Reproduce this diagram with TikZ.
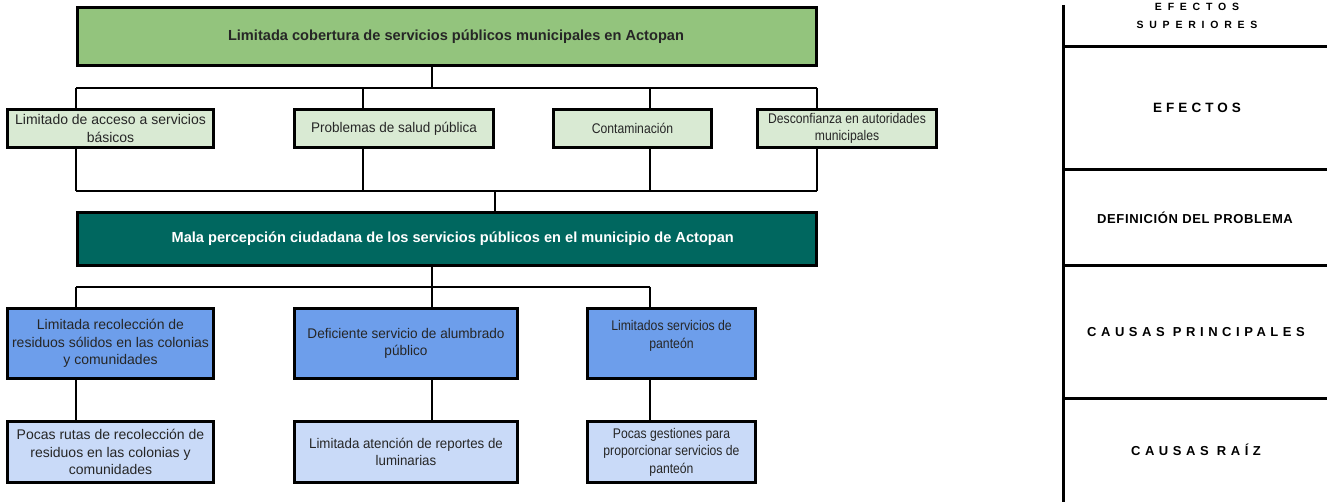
\documentclass[tikz,border=0pt]{standalone}
\usepackage{fontspec}
\setmainfont{Liberation Sans}
\definecolor{topgreen}{HTML}{93C47D}
\definecolor{effgreen}{HTML}{D9EAD3}
\definecolor{teal}{HTML}{00675F}
\definecolor{causeblue}{HTML}{6D9EEB}
\definecolor{rootblue}{HTML}{C9DAF8}
\tikzset{
  box/.style={draw=black, line width=3pt, rectangle, inner sep=0pt, align=center,
    font=\fontsize{14}{17.5}\selectfont, text=black!85},
  narrow/.style={font=\fontsize{14}{17.5}\selectfont\addfontfeatures{FakeStretch=#1}},
  titlebox/.style={box, font=\bfseries\fontsize{14.6}{17.5}\selectfont},
  conn/.style={draw=black, line width=2pt},
  panel/.style={draw=black, line width=3pt},
  lab/.style={align=center, font=\bfseries\fontsize{#1}{18}\selectfont},
  spacing/.style={font=\bfseries\fontsize{#1}{18}\selectfont},
}
\begin{document}
\begin{tikzpicture}[x=1pt,y=-1pt]
\useasboundingbox (0,0) rectangle (1327,502);
% boxes
\node[titlebox, fill=topgreen, minimum width=739, minimum height=58] (top) at (446.5,36.5) {\hspace*{19pt}Limitada cobertura de servicios públicos municipales en Actopan};
\node[box, fill=effgreen, minimum width=206, minimum height=38] (e1) at (110.5,128.5) {Limitado de acceso a servicios\\básicos};
\node[box, narrow=0.965, fill=effgreen, minimum width=199, minimum height=38] (e2) at (394,128.5) {Problemas de salud pública};
\node[box, narrow=0.87, fill=effgreen, minimum width=158, minimum height=38] (e3) at (632.5,128.5) {Contaminación};
\node[box, narrow=0.87, fill=effgreen, minimum width=179, minimum height=38] (e4) at (847,128.5) {Desconfianza en autoridades\\municipales};
\node[titlebox, fill=teal, text=white, minimum width=739.5, minimum height=53] (prob) at (446.75,239) {\hspace*{12pt}Mala percepción ciudadana de los servicios públicos en el municipio de Actopan};
\node[box, fill=causeblue, minimum width=206, minimum height=70] (c1) at (110.5,343.5) {Limitada recolección de\\residuos sólidos en las colonias\\y comunidades};
\node[box, narrow=0.97, fill=causeblue, minimum width=223, minimum height=70] (c2) at (406,343.5) {Deficiente servicio de alumbrado\\público};
\node[box, narrow=0.875, fill=causeblue, minimum width=168, minimum height=70] (c3) at (671.5,343.5) {Limitados servicios de\\panteón\\[-5pt]\strut};
\node[box, fill=rootblue, minimum width=206, minimum height=61] (r1) at (110.5,452) {Pocas rutas de recolección de\\residuos en las colonias y\\comunidades};
\node[box, narrow=0.95, fill=rootblue, minimum width=223, minimum height=61] (r2) at (406,452) {Limitada atención de reportes de\\luminarias};
\node[box, narrow=0.87, fill=rootblue, minimum width=168, minimum height=61] (r3) at (671.5,452) {Pocas gestiones para\\proporcionar servicios de\\panteón};
% connector coordinates
\coordinate (ta) at (432,88);
\coordinate (ba) at (76,88);
\coordinate (bb) at (363,88);
\coordinate (bc) at (650,88);
\coordinate (bd) at (817,88);
\coordinate (la) at (76,191);
\coordinate (lb) at (363,191);
\coordinate (lc) at (650,191);
\coordinate (ld) at (817,191);
\coordinate (lm) at (495,191);
\coordinate (pa) at (76,287);
\coordinate (pb) at (432,287);
\coordinate (pc) at (650,287);
% top to effects
\draw[conn] (top.south -| ta) -- (ta);
\draw[conn] (ba) -- (bd);
\draw[conn] (ba) -- (e1.north -| ba);
\draw[conn] (bb) -- (e2.north -| bb);
\draw[conn] (bc) -- (e3.north -| bc);
\draw[conn] (bd) -- (e4.north -| bd);
% effects to problem
\draw[conn] (e1.south -| la) -- (la);
\draw[conn] (e2.south -| lb) -- (lb);
\draw[conn] (e3.south -| lc) -- (lc);
\draw[conn] (e4.south -| ld) -- (ld);
\draw[conn] (la) -- (ld);
\draw[conn] (lm) -- (prob.north -| lm);
% problem to causes
\draw[conn] (prob.south -| pb) -- (pb);
\draw[conn] (pa) -- (pc);
\draw[conn] (pa) -- (c1.north -| pa);
\draw[conn] (pb) -- (c2.north -| pb);
\draw[conn] (pc) -- (c3.north -| pc);
% causes to roots
\draw[conn] (c1.south -| pa) -- (r1.north -| pa);
\draw[conn] (c2.south -| pb) -- (r2.north -| pb);
\draw[conn] (c3.south -| pc) -- (r3.north -| pc);
% right panel
\coordinate (vt) at (1063,5);
\coordinate (vb) at (1063,502);
\draw[panel] (vt) -- (vb);
\coordinate (h1) at (1063,47);  \coordinate (h1r) at (1327,47);
\coordinate (h2) at (1063,170); \coordinate (h2r) at (1327,170);
\coordinate (h3) at (1063,266); \coordinate (h3r) at (1327,266);
\coordinate (h4) at (1063,398); \coordinate (h4r) at (1327,398);
\draw[panel] (h1) -- (h1r);
\draw[panel] (h2) -- (h2r);
\draw[panel] (h3) -- (h3r);
\draw[panel] (h4) -- (h4r);
\node[align=center, font=\bfseries\fontsize{10.5}{18}\selectfont\addfontfeatures{LetterSpace=55}] (l1) at (1197,16) {EFECTOS\\SUPERIORES};
\node[font=\bfseries\fontsize{13.5}{18}\selectfont\addfontfeatures{LetterSpace=30}] (l2) at (1197,108) {EFECTOS};
\node[font=\bfseries\fontsize{13}{18}\selectfont\addfontfeatures{LetterSpace=5}] (l3) at (1195,218) {DEFINICIÓN DEL PROBLEMA};
\node[font=\bfseries\fontsize{13}{18}\selectfont\addfontfeatures{LetterSpace=35}] (l4) at (1196,332) {CAUSAS PRINCIPALES};
\node[font=\bfseries\fontsize{13}{18}\selectfont\addfontfeatures{LetterSpace=35}] (l5) at (1196,450) {CAUSAS RAÍZ};
\end{tikzpicture}
\end{document}
